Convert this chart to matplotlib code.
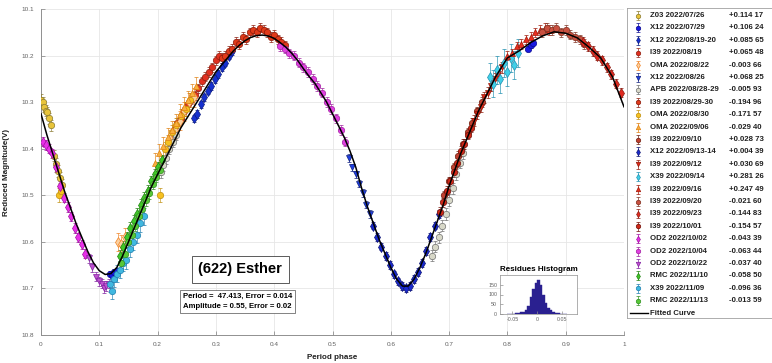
import matplotlib
matplotlib.use("Agg")
import matplotlib.pyplot as plt

plt.rcParams['font.family'] = ['Liberation Sans', 'DejaVu Sans']

# ---------------- data ----------------
fit_phase = [0.00, 0.01, 0.02, 0.03, 0.04, 0.05, 0.06, 0.07, 0.08, 0.09, 0.10, 0.11, 0.12, 0.13,
             0.14, 0.15, 0.16, 0.17, 0.18, 0.19, 0.20, 0.21, 0.22, 0.23, 0.24, 0.25, 0.26, 0.27,
             0.28, 0.29, 0.30, 0.31, 0.32, 0.33, 0.34, 0.35, 0.36, 0.37, 0.38, 0.39, 0.40, 0.41,
             0.42, 0.43, 0.44, 0.45, 0.46, 0.47, 0.48, 0.49, 0.50, 0.51, 0.52, 0.53, 0.54, 0.55,
             0.56, 0.57, 0.58, 0.59, 0.60, 0.61, 0.62, 0.63, 0.64, 0.65, 0.66, 0.67, 0.68, 0.69,
             0.70, 0.71, 0.72, 0.73, 0.74, 0.75, 0.76, 0.77, 0.78, 0.79, 0.80, 0.82, 0.84, 0.86,
             0.88, 0.90, 0.92, 0.94, 0.96, 0.98, 1.00]
fit_mag = [10.325, 10.37, 10.41, 10.45, 10.49, 10.525, 10.56, 10.59, 10.62, 10.645, 10.662, 10.67,
           10.668, 10.655, 10.63, 10.60, 10.57, 10.54, 10.51, 10.48, 10.455, 10.43, 10.405, 10.38,
           10.355, 10.335, 10.315, 10.295, 10.275, 10.255, 10.235, 10.22, 10.205, 10.19, 10.178,
           10.168, 10.161, 10.157, 10.156, 10.158, 10.163, 10.172, 10.182, 10.195, 10.21, 10.228,
           10.245, 10.26, 10.28, 10.30, 10.325, 10.35, 10.375, 10.405, 10.44, 10.485, 10.525,
           10.56, 10.595, 10.625, 10.655, 10.68, 10.695, 10.695, 10.68, 10.655, 10.625, 10.59,
           10.555, 10.52, 10.48, 10.445, 10.41, 10.38, 10.35, 10.32, 10.295, 10.27, 10.245, 10.225,
           10.205, 10.19, 10.172, 10.158, 10.149, 10.152, 10.162, 10.182, 10.205, 10.245, 10.31]

z03_0726_ph = [0.000, 0.003, 0.006, 0.008, 0.011, 0.014, 0.017, 0.022, 0.026, 0.029, 0.033, 0.036]
z03_0726_mag = [10.295, 10.300, 10.310, 10.318, 10.322, 10.335, 10.350, 10.415, 10.432, 10.448, 10.462, 10.478]
x12_0729_ph = [0.118, 0.122, 0.126, 0.130, 0.836, 0.840, 0.844]
x12_0729_mag = [10.668, 10.672, 10.665, 10.662, 10.185, 10.178, 10.172]
x12_0819_ph = [0.262, 0.268, 0.274, 0.280, 0.286, 0.292, 0.298, 0.304, 0.310, 0.316, 0.322, 0.328]
x12_0819_mag = [10.335, 10.325, 10.305, 10.290, 10.275, 10.265, 10.250, 10.240, 10.225, 10.215, 10.200, 10.190]
i39_0819_ph = [0.228, 0.234, 0.240, 0.246, 0.252, 0.258, 0.264, 0.270, 0.276, 0.282, 0.288, 0.294, 0.300, 0.306]
i39_0819_mag = [10.360, 10.345, 10.335, 10.320, 10.305, 10.295, 10.285, 10.270, 10.255, 10.245, 10.235, 10.225, 10.210, 10.200]
oma_0822_ph = [0.132, 0.138, 0.144, 0.222, 0.230, 0.238, 0.246, 0.254, 0.262]
oma_0822_mag = [10.600, 10.605, 10.590, 10.380, 10.360, 10.340, 10.320, 10.300, 10.290]
x12_0826_ph = [0.528, 0.534, 0.540, 0.546, 0.552, 0.558, 0.564]
x12_0826_mag = [10.420, 10.440, 10.455, 10.475, 10.495, 10.520, 10.540]
apb_0828_ph = [0.205, 0.210, 0.215, 0.220, 0.226, 0.232, 0.670, 0.676, 0.682, 0.688, 0.694, 0.700, 0.706, 0.712, 0.718, 0.724]
apb_0828_mag = [10.450, 10.435, 10.420, 10.400, 10.385, 10.370, 10.630, 10.610, 10.590, 10.565, 10.540, 10.510, 10.485, 10.455, 10.430, 10.410]
i39_0829_ph = [0.310, 0.316, 0.322, 0.328, 0.334, 0.340, 0.346, 0.352, 0.358, 0.364, 0.370, 0.376, 0.382, 0.388, 0.394, 0.400, 0.406, 0.412, 0.418]
i39_0829_mag = [10.205, 10.200, 10.190, 10.185, 10.170, 10.175, 10.160, 10.165, 10.150, 10.145, 10.150, 10.140, 10.145, 10.150, 10.160, 10.155, 10.165, 10.170, 10.178]
oma_0830_ph = [0.031, 0.035, 0.204, 0.212, 0.218, 0.225, 0.232, 0.240, 0.248, 0.256]
oma_0830_mag = [10.500, 10.490, 10.500, 10.400, 10.385, 10.365, 10.350, 10.330, 10.315, 10.295]
oma_0906_ph = [0.196, 0.203, 0.210, 0.217, 0.224, 0.231, 0.238, 0.245, 0.252, 0.259, 0.266]
oma_0906_mag = [10.430, 10.410, 10.395, 10.375, 10.360, 10.345, 10.325, 10.310, 10.295, 10.280, 10.265]
i39_0910_ph = [0.692, 0.700, 0.708, 0.716, 0.724, 0.732, 0.740, 0.748, 0.756]
i39_0910_mag = [10.500, 10.470, 10.440, 10.415, 10.390, 10.365, 10.345, 10.320, 10.300]
x12_0913_ph = [0.570, 0.577, 0.584, 0.591, 0.598, 0.605, 0.612, 0.619, 0.626, 0.633, 0.640, 0.647, 0.654, 0.661, 0.668, 0.675, 0.682]
x12_0913_mag = [10.565, 10.590, 10.610, 10.630, 10.650, 10.670, 10.685, 10.695, 10.700, 10.695, 10.680, 10.665, 10.645, 10.620, 10.590, 10.565, 10.540]
i39_0912_ph = [0.742, 0.748, 0.754, 0.760, 0.766, 0.772, 0.778, 0.784, 0.790]
i39_0912_mag = [10.340, 10.325, 10.310, 10.290, 10.280, 10.265, 10.250, 10.240, 10.225]
x39_0914_ph = [0.770, 0.776, 0.782, 0.788, 0.794, 0.800, 0.806, 0.812, 0.818]
x39_0914_mag = [10.245, 10.260, 10.230, 10.250, 10.215, 10.235, 10.205, 10.220, 10.195]
i39_0916_ph = [0.800, 0.808, 0.816, 0.824, 0.832, 0.840, 0.848, 0.856, 0.864, 0.872]
i39_0916_mag = [10.200, 10.195, 10.180, 10.175, 10.165, 10.160, 10.150, 10.145, 10.140, 10.145]
i39_0920_ph = [0.860, 0.868, 0.876, 0.884, 0.892, 0.900, 0.908, 0.916, 0.924, 0.932]
i39_0920_mag = [10.150, 10.140, 10.145, 10.140, 10.150, 10.145, 10.155, 10.160, 10.165, 10.175]
i39_0923_ph = [0.930, 0.938, 0.946, 0.954, 0.962, 0.970, 0.978, 0.986, 0.994]
i39_0923_mag = [10.170, 10.180, 10.190, 10.200, 10.210, 10.225, 10.240, 10.260, 10.280]
i39_1001_ph = [0.684, 0.690, 0.696, 0.702, 0.708, 0.714, 0.720, 0.726, 0.732, 0.738]
i39_1001_mag = [10.535, 10.515, 10.490, 10.470, 10.450, 10.430, 10.405, 10.390, 10.370, 10.355]
od2_1002_ph = [0.004, 0.009, 0.014, 0.019, 0.026, 0.033, 0.040, 0.046, 0.052, 0.058, 0.064, 0.070, 0.076]
od2_1002_mag = [10.385, 10.392, 10.400, 10.410, 10.440, 10.480, 10.505, 10.525, 10.545, 10.570, 10.590, 10.605, 10.625]
od2_1004_ph = [0.410, 0.418, 0.426, 0.434, 0.442, 0.450, 0.458, 0.466, 0.474, 0.482, 0.490, 0.498, 0.506, 0.514, 0.522]
od2_1004_mag = [10.180, 10.185, 10.195, 10.200, 10.215, 10.225, 10.235, 10.250, 10.265, 10.280, 10.300, 10.315, 10.335, 10.360, 10.385]
od2_1022_ph = [0.082, 0.088, 0.094, 0.099, 0.104, 0.108, 0.112, 0.116]
od2_1022_mag = [10.635, 10.655, 10.675, 10.685, 10.690, 10.700, 10.695, 10.690]
rmc_1110_ph = [0.135, 0.141, 0.147, 0.153, 0.159, 0.165, 0.171, 0.177, 0.183, 0.189, 0.195, 0.201, 0.207]
rmc_1110_mag = [10.630, 10.610, 10.590, 10.570, 10.555, 10.540, 10.520, 10.505, 10.490, 10.470, 10.455, 10.440, 10.425]
x39_1109_ph = [0.118, 0.122, 0.126, 0.130, 0.135, 0.140, 0.146, 0.152, 0.158, 0.164, 0.170, 0.176]
x39_1109_mag = [10.690, 10.705, 10.680, 10.668, 10.660, 10.645, 10.640, 10.615, 10.600, 10.585, 10.560, 10.545]
rmc_1113_ph = [0.138, 0.144, 0.150, 0.156, 0.162, 0.168, 0.174, 0.180, 0.186, 0.192, 0.198, 0.204]
rmc_1113_mag = [10.645, 10.625, 10.600, 10.585, 10.565, 10.545, 10.530, 10.510, 10.495, 10.475, 10.460, 10.445]

session_labels = ["Z03 2022/07/26", "X12 2022/07/29", "X12 2022/08/19-20", "I39 2022/08/19",
                  "OMA 2022/08/22", "X12 2022/08/26", "APB 2022/08/28-29", "I39 2022/08/29-30",
                  "OMA 2022/08/30", "OMA 2022/09/06", "I39 2022/09/10", "X12 2022/09/13-14",
                  "I39 2022/09/12", "X39 2022/09/14", "I39 2022/09/16", "I39 2022/09/20",
                  "I39 2022/09/23", "I39 2022/10/01", "OD2 2022/10/02", "OD2 2022/10/04",
                  "OD2 2022/10/22", "RMC 2022/11/10", "X39 2022/11/09", "RMC 2022/11/13"]
session_offsets = ["+0.114 17", "+0.106 24", "+0.085 65", "+0.065 48", "-0.003 66", "+0.068 25",
                   "-0.005 93", "-0.194 96", "-0.171 57", "-0.029 40", "+0.028 73", "+0.004 39",
                   "+0.030 69", "+0.281 26", "+0.247 49", "-0.021 60", "-0.144 83", "-0.154 57",
                   "-0.043 39", "-0.063 44", "-0.037 40", "-0.058 50", "-0.096 36", "-0.013 59"]
session_err = [0.012, 0.006, 0.008, 0.010, 0.020, 0.008, 0.012, 0.010, 0.015, 0.020, 0.010, 0.008,
               0.012, 0.030, 0.010, 0.010, 0.010, 0.010, 0.010, 0.010, 0.010, 0.012, 0.018, 0.012]

hist_left = [-0.060, -0.055, -0.050, -0.045, -0.040, -0.035, -0.030, -0.025, -0.020, -0.015,
             -0.010, -0.005, 0.000, 0.005, 0.010, 0.015, 0.020, 0.025, 0.030, 0.035, 0.040,
             0.045, 0.050, 0.055]
hist_count = [0, 1, 2, 3, 6, 10, 12, 18, 40, 85, 130, 160, 175, 150, 100, 55, 32, 18, 12, 7, 4, 2, 1, 0]

period_text = "Period =  47.413, Error = 0.014"
amp_text = "Amplitude = 0.55, Error = 0.02"

# ---------------- styles ----------------
phases = [z03_0726_ph, x12_0729_ph, x12_0819_ph, i39_0819_ph, oma_0822_ph, x12_0826_ph, apb_0828_ph,
          i39_0829_ph, oma_0830_ph, oma_0906_ph, i39_0910_ph, x12_0913_ph, i39_0912_ph, x39_0914_ph,
          i39_0916_ph, i39_0920_ph, i39_0923_ph, i39_1001_ph, od2_1002_ph, od2_1004_ph, od2_1022_ph,
          rmc_1110_ph, x39_1109_ph, rmc_1113_ph]
mags = [z03_0726_mag, x12_0729_mag, x12_0819_mag, i39_0819_mag, oma_0822_mag, x12_0826_mag, apb_0828_mag,
        i39_0829_mag, oma_0830_mag, oma_0906_mag, i39_0910_mag, x12_0913_mag, i39_0912_mag, x39_0914_mag,
        i39_0916_mag, i39_0920_mag, i39_0923_mag, i39_1001_mag, od2_1002_mag, od2_1004_mag, od2_1022_mag,
        rmc_1110_mag, x39_1109_mag, rmc_1113_mag]
styles = [('o', '#e8c43a', '#8a7a30'), ('o', '#1a1ae0', '#0a0a90'), ('d', '#1530d0', '#0a1a80'),
          ('o', '#e03020', '#902010'), ('d', '#fbd0a0', '#f08020'), ('v', '#2040e0', '#102080'),
          ('o', '#d8d8c8', '#707070'), ('o', '#e03a1a', '#8a1a0a'), ('o', '#f5c020', '#c09010'),
          ('^', '#f8b040', '#e08010'), ('o', '#c04030', '#702010'), ('d', '#1a2ad0', '#0a1070'),
          ('v', '#e02818', '#901808'), ('d', '#40d0e8', '#2090b0'), ('^', '#e83020', '#a01808'),
          ('o', '#c85040', '#803020'), ('d', '#e02a20', '#8a1a10'), ('o', '#d02818', '#701008'),
          ('d', '#e830e8', '#a010a0'), ('o', '#e040e0', '#a020a0'), ('v', '#c050d0', '#8020a0'),
          ('d', '#40c828', '#208010'), ('o', '#40b8e0', '#2080b0'), ('o', '#58c838', '#309020')]

W, H = 772, 363
fig = plt.figure(figsize=(W / 100, H / 100), dpi=100)


def fr(x0, y0, x1, y1):
    return [x0 / W, 1 - y1 / H, (x1 - x0) / W, (y1 - y0) / H]


ax = fig.add_axes(fr(41, 9, 624, 335))
ax.set_xlim(0, 1)
ax.set_ylim(10.8, 10.1)
ax.set_xticks([i / 10 for i in range(11)])
ax.set_xticklabels(["0", "0.1", "0.2", "0.3", "0.4", "0.5", "0.6", "0.7", "0.8", "0.9", "1"])
ax.set_yticks([10.1, 10.2, 10.3, 10.4, 10.5, 10.6, 10.7, 10.8])
ax.set_yticklabels(["10.1", "10.2", "10.3", "10.4", "10.5", "10.6", "10.7", "10.8"])
ax.grid(True, color='#e6e6e6', lw=0.6)
ax.set_axisbelow(True)
for s in ['top', 'right']:
    ax.spines[s].set_visible(False)
for s in ['left', 'bottom']:
    ax.spines[s].set_color('#909090')
    ax.spines[s].set_linewidth(0.7)
ax.tick_params(direction='in', length=3, width=0.6, color='#909090', labelsize=4.6,
               labelcolor='#606060', pad=5)
ax.set_xlabel("Period phase", fontsize=5.8, fontweight='bold', labelpad=5, color='#202020')
ax.set_ylabel("Reduced Magnitude(V)", fontsize=5.8, fontweight='bold', labelpad=8, color='#202020')

for ph, mg, (mk, fc, ec), er in zip(phases, mags, styles, session_err):
    ax.errorbar(ph, mg, yerr=er, fmt=mk, ms=4.6, mfc=fc, mec=ec, mew=0.5, ecolor=ec,
                elinewidth=0.45, capsize=1.4, capthick=0.45, zorder=3)

ax.plot(fit_phase, fit_mag, color='black', lw=1.1, zorder=5)

# title boxes
fig.text(240 / W, 1 - 269.5 / H, "(622) Esther", fontsize=10.5, fontweight='bold', ha='center', va='center',
         bbox=dict(boxstyle='square,pad=0.45', fc='white', ec='#404040', lw=0.6))
fig.text(183 / W, 1 - 301.5 / H, period_text + "\n" + amp_text, fontsize=5.6, fontweight='bold',
         ha='left', va='center', linespacing=1.55,
         bbox=dict(boxstyle='square,pad=0.35', fc='white', ec='#505050', lw=0.5))

# residues histogram inset
hx = fig.add_axes(fr(500, 275, 577, 314))
hx.bar(hist_left, hist_count, width=0.005, align='edge', color='#2a2090', edgecolor='#2a2090', lw=0.3)
hx.set_xlim(-0.075, 0.08)
hx.set_ylim(0, 200)
hx.set_xticks([-0.05, 0, 0.05])
hx.set_xticklabels(["-0.05", "0", "0.05"])
hx.set_yticks([0, 50, 100, 150])
hx.tick_params(direction='in', length=2, width=0.5, color='#909090', labelsize=3.8,
               labelcolor='#606060', pad=2)
for s in hx.spines.values():
    s.set_color('#909090')
    s.set_linewidth(0.5)
hx.set_title("Residues Histogram", fontsize=5.8, fontweight='bold', pad=3)

# legend (manual, cut by figure edge)
lx = fig.add_axes(fr(627, 8, 772, 318))
lx.set_xlim(627, 772)
lx.set_ylim(318, 8)
lx.set_xticks([])
lx.set_yticks([])
lx.spines['right'].set_visible(False)
for s in ['left', 'top', 'bottom']:
    lx.spines[s].set_color('#a0a0a0')
    lx.spines[s].set_linewidth(0.6)
row0, step = 15.5, 12.4
for i, ((mk, fc, ec), lab, off) in enumerate(zip(styles, session_labels, session_offsets)):
    y = row0 + i * step
    lx.errorbar([638], [y], yerr=[4.5], fmt=mk, ms=3.2, mfc=fc, mec=ec, mew=0.5, ecolor=ec,
                elinewidth=0.5, capsize=1.2, capthick=0.5)
    lx.text(650, y, lab, fontsize=5.6, fontweight='bold', va='center', ha='left', color='#202020')
    lx.text(729, y, off, fontsize=5.6, fontweight='bold', va='center', ha='left', color='#202020',
            clip_on=True)
yf = row0 + 24 * step
lx.plot([630, 648], [yf, yf], color='black', lw=1.0)
lx.text(650, yf, "Fitted Curve", fontsize=5.6, fontweight='bold', va='center', ha='left', color='#202020')

fig.savefig("out.png", dpi=100)
